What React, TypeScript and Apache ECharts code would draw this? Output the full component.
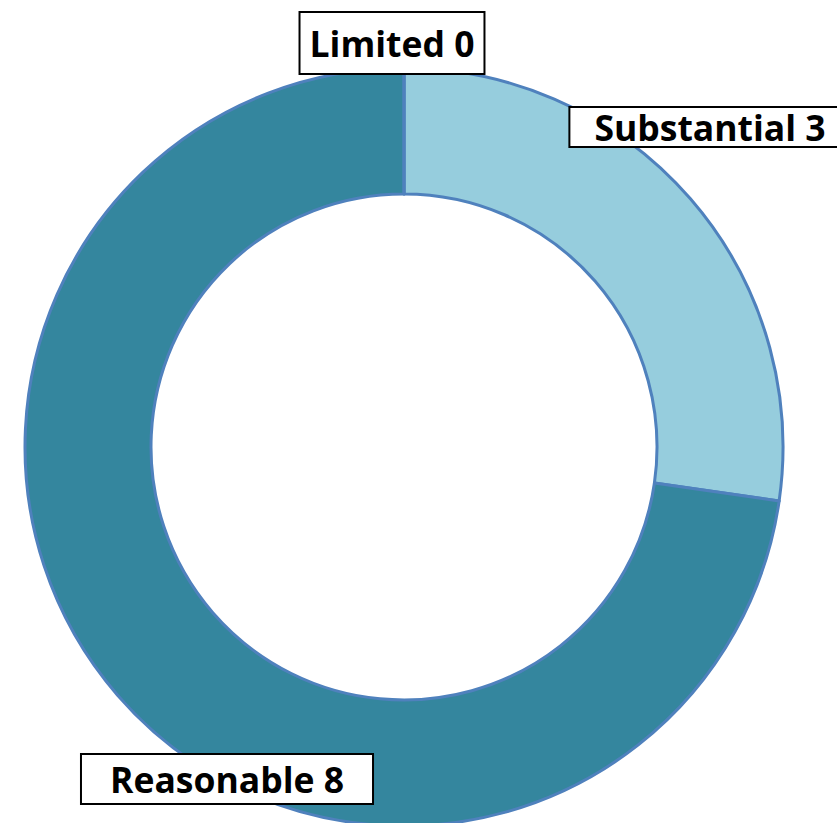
import React, { useEffect, useRef } from "react";
import * as echarts from "echarts";

const categories = ["Substantial", "Reasonable", "Limited"];
const values = [3, 8, 0];
const colors = ["#96CDDD", "#34869E", "#34869E"];

const labelSpots: Record<string, { x: number; y: number; pad: number[] }> = {
  Limited: { x: 392, y: 43, pad: [13, 9, 11, 9] },
  Substantial: { x: 710, y: 127, pad: [1, 24, 1, 24] },
  Reasonable: { x: 227, y: 779, pad: [6, 28, 6, 28] },
};

export default function App() {
  const ref = useRef<HTMLDivElement>(null);
  useEffect(() => {
    if (!ref.current) return;
    const chart = echarts.init(ref.current, null, { renderer: "svg" });
    chart.setOption({
      animation: false,
      series: [
        {
          type: "pie",
          center: [404, 447],
          radius: [253, 379],
          startAngle: 90,
          clockwise: true,
          silent: true,
          itemStyle: { borderColor: "#4F81BD", borderWidth: 3 },
          labelLine: { show: false },
          label: {
            show: true,
            position: "inside",
            formatter: "{b} {c}",
            fontFamily: "Open Sans",
            fontWeight: "bold",
            fontSize: 35.5,
            color: "#000",
            backgroundColor: "#fff",
            borderColor: "#000",
            borderWidth: 2,
            overflow: "none",
          },
          labelLayout: (params: any) => {
            const name = categories[params.dataIndex];
            const s = labelSpots[name];
            return { x: s.x, y: s.y, align: "center", verticalAlign: "middle", hideOverlap: false };
          },
          data: categories.map((c, i) => ({
            name: c,
            value: values[i],
            itemStyle: { color: colors[i] },
            label: { padding: labelSpots[c].pad },
          })),
        },
      ],
    });
    return () => chart.dispose();
  }, []);
  return <div ref={ref} style={{ width: 837, height: 823, position: "absolute", left: 0, top: 0 }} />;
}
